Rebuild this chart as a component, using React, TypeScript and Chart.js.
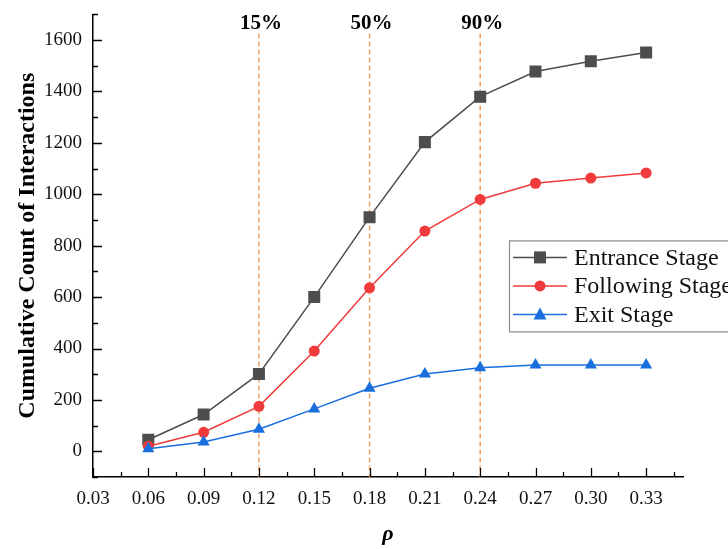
import React, { useEffect, useRef } from 'react';
import { Chart, registerables } from 'chart.js';

Chart.register(...registerables);

const rhoValues = [0.06, 0.09, 0.12, 0.15, 0.18, 0.21, 0.24, 0.27, 0.3, 0.33];
const entranceStage = [45, 143, 301, 600, 911, 1203, 1380, 1478, 1518, 1552];
const followingStage = [20, 74, 175, 390, 636, 857, 980, 1043, 1063, 1083];
const exitStage = [10, 36, 86, 165, 245, 301, 325, 336, 336, 336];

const seriesLabels = ['Entrance Stage', 'Following Stage', 'Exit Stage'];
const xTickValues = [0.03, 0.06, 0.09, 0.12, 0.15, 0.18, 0.21, 0.24, 0.27, 0.3, 0.33];
const xMinorTicks = [0.045, 0.075, 0.105, 0.135, 0.165, 0.195, 0.225, 0.255, 0.285, 0.315, 0.345];
const yTickValues = [0, 200, 400, 600, 800, 1000, 1200, 1400, 1600];
const yMinorTicks = [-100, 100, 300, 500, 700, 900, 1100, 1300, 1500, 1700];
const thresholdX = [0.12, 0.18, 0.24];
const thresholdLabels = ['15%', '50%', '90%'];

const SERIF = "'Liberation Serif', 'Times New Roman', serif";

const innerTickPlugin = {
  id: 'innerTicks',
  afterDraw(chart: any) {
    const { ctx, chartArea, scales } = chart;
    ctx.save();
    ctx.strokeStyle = '#000';
    ctx.lineWidth = 1.3;
    ctx.beginPath();
    xTickValues.forEach((v) => {
      const px = Math.round(scales.x.getPixelForValue(v)) + 0.5;
      ctx.moveTo(px, chartArea.bottom);
      ctx.lineTo(px, chartArea.bottom - 9);
    });
    xMinorTicks.forEach((v) => {
      const px = Math.round(scales.x.getPixelForValue(v)) + 0.5;
      ctx.moveTo(px, chartArea.bottom);
      ctx.lineTo(px, chartArea.bottom - 5);
    });
    yTickValues.forEach((v) => {
      const py = Math.round(scales.y.getPixelForValue(v)) + 0.5;
      ctx.moveTo(chartArea.left, py);
      ctx.lineTo(chartArea.left + 9, py);
    });
    yMinorTicks.forEach((v) => {
      const py = Math.round(scales.y.getPixelForValue(v)) + 0.5;
      ctx.moveTo(chartArea.left, py);
      ctx.lineTo(chartArea.left + 5, py);
    });
    ctx.stroke();
    ctx.restore();
  },
};

const thresholdPlugin = {
  id: 'thresholds',
  beforeDatasetsDraw(chart: any) {
    const { ctx, chartArea, scales } = chart;
    ctx.save();
    thresholdX.forEach((v, i) => {
      const px = scales.x.getPixelForValue(v);
      ctx.strokeStyle = '#EBA46A';
      ctx.lineWidth = 1.5;
      ctx.setLineDash([5, 3]);
      ctx.beginPath();
      ctx.moveTo(px, chartArea.top + 19);
      ctx.lineTo(px, chartArea.bottom);
      ctx.stroke();
      ctx.setLineDash([]);
      ctx.fillStyle = '#000';
      ctx.font = `bold 21px ${SERIF}`;
      ctx.textAlign = 'center';
      ctx.textBaseline = 'middle';
      ctx.fillText(thresholdLabels[i], px + 2, chartArea.top + 9);
    });
    ctx.restore();
  },
};

function drawMarker(ctx: CanvasRenderingContext2D, style: string, x: number, y: number, color: string) {
  ctx.fillStyle = color;
  ctx.beginPath();
  if (style === 'rect') {
    ctx.rect(x - 6, y - 6, 12, 12);
  } else if (style === 'circle') {
    ctx.arc(x, y, 5.5, 0, Math.PI * 2);
  } else {
    ctx.moveTo(x, y - 7);
    ctx.lineTo(x + 6.5, y + 5);
    ctx.lineTo(x - 6.5, y + 5);
    ctx.closePath();
  }
  ctx.fill();
}

const legendPlugin = {
  id: 'insideLegend',
  afterDraw(chart: any) {
    const { ctx, chartArea } = chart;
    const left = chartArea.left + 416;
    const top = chartArea.top + 226;
    ctx.save();
    ctx.fillStyle = '#fff';
    ctx.strokeStyle = '#8a8a8a';
    ctx.lineWidth = 1.2;
    ctx.fillRect(left, top, 260, 91);
    ctx.strokeRect(left + 0.5, top + 0.5, 260, 91);
    chart.data.datasets.forEach((ds: any, i: number) => {
      const y = top + 17 + i * 28.5;
      ctx.strokeStyle = ds.borderColor;
      ctx.lineWidth = 1.5;
      ctx.beginPath();
      ctx.moveTo(left + 4, y);
      ctx.lineTo(left + 58, y);
      ctx.stroke();
      drawMarker(ctx, ds.pointStyle, left + 31, y, ds.pointBackgroundColor);
      ctx.fillStyle = '#111';
      ctx.font = `24px ${SERIF}`;
      ctx.textAlign = 'left';
      ctx.textBaseline = 'middle';
      ctx.fillText(ds.label, left + 65, y + 1);
    });
    ctx.restore();
  },
};

export default function App() {
  const canvasRef = useRef<HTMLCanvasElement | null>(null);

  useEffect(() => {
    const canvas = canvasRef.current;
    if (!canvas) return;
    const mk = (vals: number[]) => rhoValues.map((x, i) => ({ x, y: vals[i] }));
    const hiddenGrid = {
      display: true,
      drawOnChartArea: false,
      drawTicks: true,
      tickLength: 8,
      color: 'rgba(0,0,0,0)',
      lineWidth: 1,
    };
    const chart = new Chart(canvas, {
      type: 'line',
      data: {
        datasets: [
          {
            label: seriesLabels[0],
            data: mk(entranceStage),
            borderColor: '#4d4d4d',
            backgroundColor: '#4d4d4d',
            pointBackgroundColor: '#4d4d4d',
            pointBorderColor: '#4d4d4d',
            pointStyle: 'rect',
            pointRadius: 8.5,
            pointBorderWidth: 0,
            borderWidth: 1.5,
            tension: 0,
            order: 3,
          },
          {
            label: seriesLabels[1],
            data: mk(followingStage),
            borderColor: '#ef3b3b',
            backgroundColor: '#ef3b3b',
            pointBackgroundColor: '#ef3b3b',
            pointBorderColor: '#ef3b3b',
            pointStyle: 'circle',
            pointRadius: 5.5,
            pointBorderWidth: 0,
            borderWidth: 1.5,
            tension: 0,
            order: 2,
          },
          {
            label: seriesLabels[2],
            data: mk(exitStage),
            borderColor: '#1a6fdf',
            backgroundColor: '#1a6fdf',
            pointBackgroundColor: '#1a6fdf',
            pointBorderColor: '#1a6fdf',
            pointStyle: 'triangle',
            pointRadius: 7,
            pointBorderWidth: 0,
            borderWidth: 1.5,
            tension: 0,
            order: 1,
          },
        ],
      },
      options: {
        animation: false,
        responsive: false,
        maintainAspectRatio: false,
        layout: { padding: { top: 12, right: 45, left: 0, bottom: 0 } },
        plugins: {
          legend: { display: false },
          tooltip: { enabled: false },
        },
        scales: {
          x: {
            type: 'linear',
            min: 0.03,
            max: 0.35,
            afterBuildTicks: (scale: any) => {
              scale.ticks = xTickValues.map((v) => ({ value: v }));
            },
            afterFit: (scale: any) => {
              scale.height = 72;
            },
            ticks: {
              color: '#111',
              font: { family: SERIF, size: 19 },
              padding: 3,
              maxRotation: 0,
              autoSkip: false,
              callback: (v: any) => Number(v).toFixed(2),
            },
            grid: hiddenGrid,
            border: { display: true, color: '#000', width: 1.5 },
            title: {
              display: true,
              text: 'ρ',
              color: '#000',
              font: { family: SERIF, size: 22, weight: 'bold', style: 'italic' },
              padding: { top: 0, bottom: 1 },
            },
          },
          y: {
            type: 'linear',
            min: -100,
            max: 1700,
            afterBuildTicks: (scale: any) => {
              scale.ticks = yTickValues.map((v) => ({ value: v }));
            },
            afterFit: (scale: any) => {
              scale.width = 93;
            },
            ticks: {
              color: '#111',
              font: { family: SERIF, size: 19 },
              padding: 3,
              autoSkip: false,
              callback: (v: any) => String(v),
            },
            grid: hiddenGrid,
            border: { display: true, color: '#000', width: 1.5 },
            title: {
              display: true,
              text: 'Cumulative Count of Interactions',
              color: '#000',
              font: { family: SERIF, size: 24, weight: 'bold' },
              padding: { top: 13, bottom: 0 },
            },
          },
        },
      },
      plugins: [thresholdPlugin, innerTickPlugin, legendPlugin],
    });
    return () => chart.destroy();
  }, []);

  return (
    <div style={{ position: 'fixed', left: 0, top: 0, width: 728, height: 549, background: '#fff' }}>
      <canvas ref={canvasRef} width={728} height={549} style={{ display: 'block', width: 728, height: 549 }} />
    </div>
  );
}
